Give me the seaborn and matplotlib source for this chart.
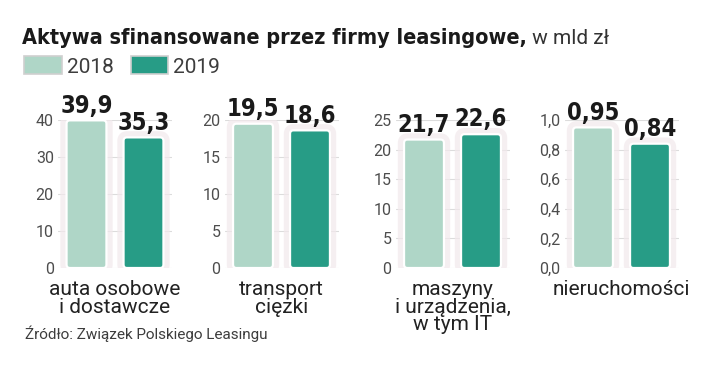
import matplotlib
matplotlib.use("Agg")
import matplotlib.pyplot as plt
import matplotlib.patheffects as pe
from matplotlib.patches import FancyBboxPatch, Patch
import seaborn as sns

# data
categories = ["auta osobowe\ni dostawcze", "transport\nciężki",
              "maszyny\ni urządzenia,\nw tym IT", "nieruchomości"]
years = ["2018", "2019"]
values_2018 = [39.9, 19.5, 21.7, 0.95]
values_2019 = [35.3, 18.6, 22.6, 0.84]
decimals = [1, 1, 1, 2]
yticks = [[0, 10, 20, 30, 40], [0, 5, 10, 15, 20],
          [0, 5, 10, 15, 20, 25], [0, 0.2, 0.4, 0.6, 0.8, 1.0]]
tick_decimals = [0, 0, 0, 1]

colors = ["#afd6c7", "#279c86"]
W, H = 720, 372


def pl(v, d):
    return f"{v:.{d}f}".replace(".", ",")


def round_bars(ax, ymax):
    # swap the plain rectangles for rounded ones with a soft glow
    px_x = 114 / 2.0
    px_y = 148 / ymax
    for p in list(ax.patches):
        x, y = p.get_x(), p.get_y()
        w, h = p.get_width(), p.get_height()
        fc = p.get_facecolor()
        p.remove()
        box = FancyBboxPatch((x, y), w, h,
                             boxstyle="round,pad=0,rounding_size=0.06",
                             mutation_aspect=px_x / px_y,
                             facecolor=fc, edgecolor="white", linewidth=1.6,
                             zorder=3)
        box.set_path_effects([pe.Stroke(linewidth=9, foreground="#f2e9ec",
                                        alpha=0.7, joinstyle="round"),
                              pe.Normal()])
        ax.add_patch(box)


sns.set_theme(style="white")
plt.rcParams["font.family"] = ["Roboto", "DejaVu Sans"]
cond = dict(family="DejaVu Sans", stretch="condensed", weight="bold")

fig = plt.figure(figsize=(W / 100, H / 100), dpi=100)
fig.patch.set_facecolor("white")

lefts = [58, 224.5, 395.5, 564.5]
axes = []
for i, cat in enumerate(categories):
    ax = fig.add_axes([lefts[i] / W, 1 - 268 / H, 114 / W, 148 / H])
    axes.append(ax)
    vals = [values_2018[i], values_2019[i]]
    sns.barplot(x=years, y=vals, hue=years, palette=colors, width=0.7,
                legend=False, ax=ax, saturation=1)
    ymax = yticks[i][-1]
    ax.set_xlim(-0.5, 1.5)
    ax.set_ylim(0, ymax)
    ax.set_yticks(yticks[i])
    ax.set_yticklabels([pl(t, tick_decimals[i]) for t in yticks[i]],
                       fontsize=11.5, color="#4d4d4d")
    ax.tick_params(axis="y", length=0, pad=3)
    ax.set_xticks([])
    ax.set_xlabel("")
    ax.set_ylabel("")
    for s in ax.spines.values():
        s.set_visible(False)
    ax.set_facecolor("none")
    ax.grid(axis="y", color="#dcdcdc", linewidth=0.8)
    ax.set_axisbelow(True)
    round_bars(ax, ymax)
    for j, v in enumerate(vals):
        ax.annotate(pl(v, decimals[i]), xy=(j, v), xytext=(0, 2),
                    textcoords="offset points", ha="center", va="bottom",
                    fontsize=17, color="#1a1a1a", annotation_clip=False,
                    zorder=5, **cond)
    ax.annotate(cat, xy=(0.5, 0), xycoords="axes fraction",
                xytext=(0, -8.5), textcoords="offset points",
                ha="center", va="top", fontsize=15, color="#222222",
                linespacing=0.92, annotation_clip=False)

# title
t1 = fig.text(22 / W, 1 - 44 / H, "Aktywa sfinansowane przez firmy leasingowe,",
              fontsize=15.5, color="#1a1a1a", va="baseline", **cond)
axes[0].annotate(" w mld zł", xy=(1, 0), xycoords=t1, va="bottom",
                 ha="left", fontsize=15, color="#333333",
                 annotation_clip=False)

# legend
handles = [Patch(facecolor=c, edgecolor="#cfcfcf", linewidth=1.2)
           for c in colors]
fig.legend(handles, years, loc="upper left",
           bbox_to_anchor=(14 / W, 1 - 46 / H), ncol=2, frameon=False,
           handlelength=1.8, handleheight=0.95,
           handletextpad=0.25, columnspacing=0.8, borderpad=0,
           labelcolor="#3d3d3d", prop={"size": 15})

# source
fig.text(25 / W, 1 - 339 / H, "Źródło: Związek Polskiego Leasingu",
         fontsize=11, color="#3d3d3d", va="baseline")

fig.savefig("out.png", dpi=100, facecolor="white")
